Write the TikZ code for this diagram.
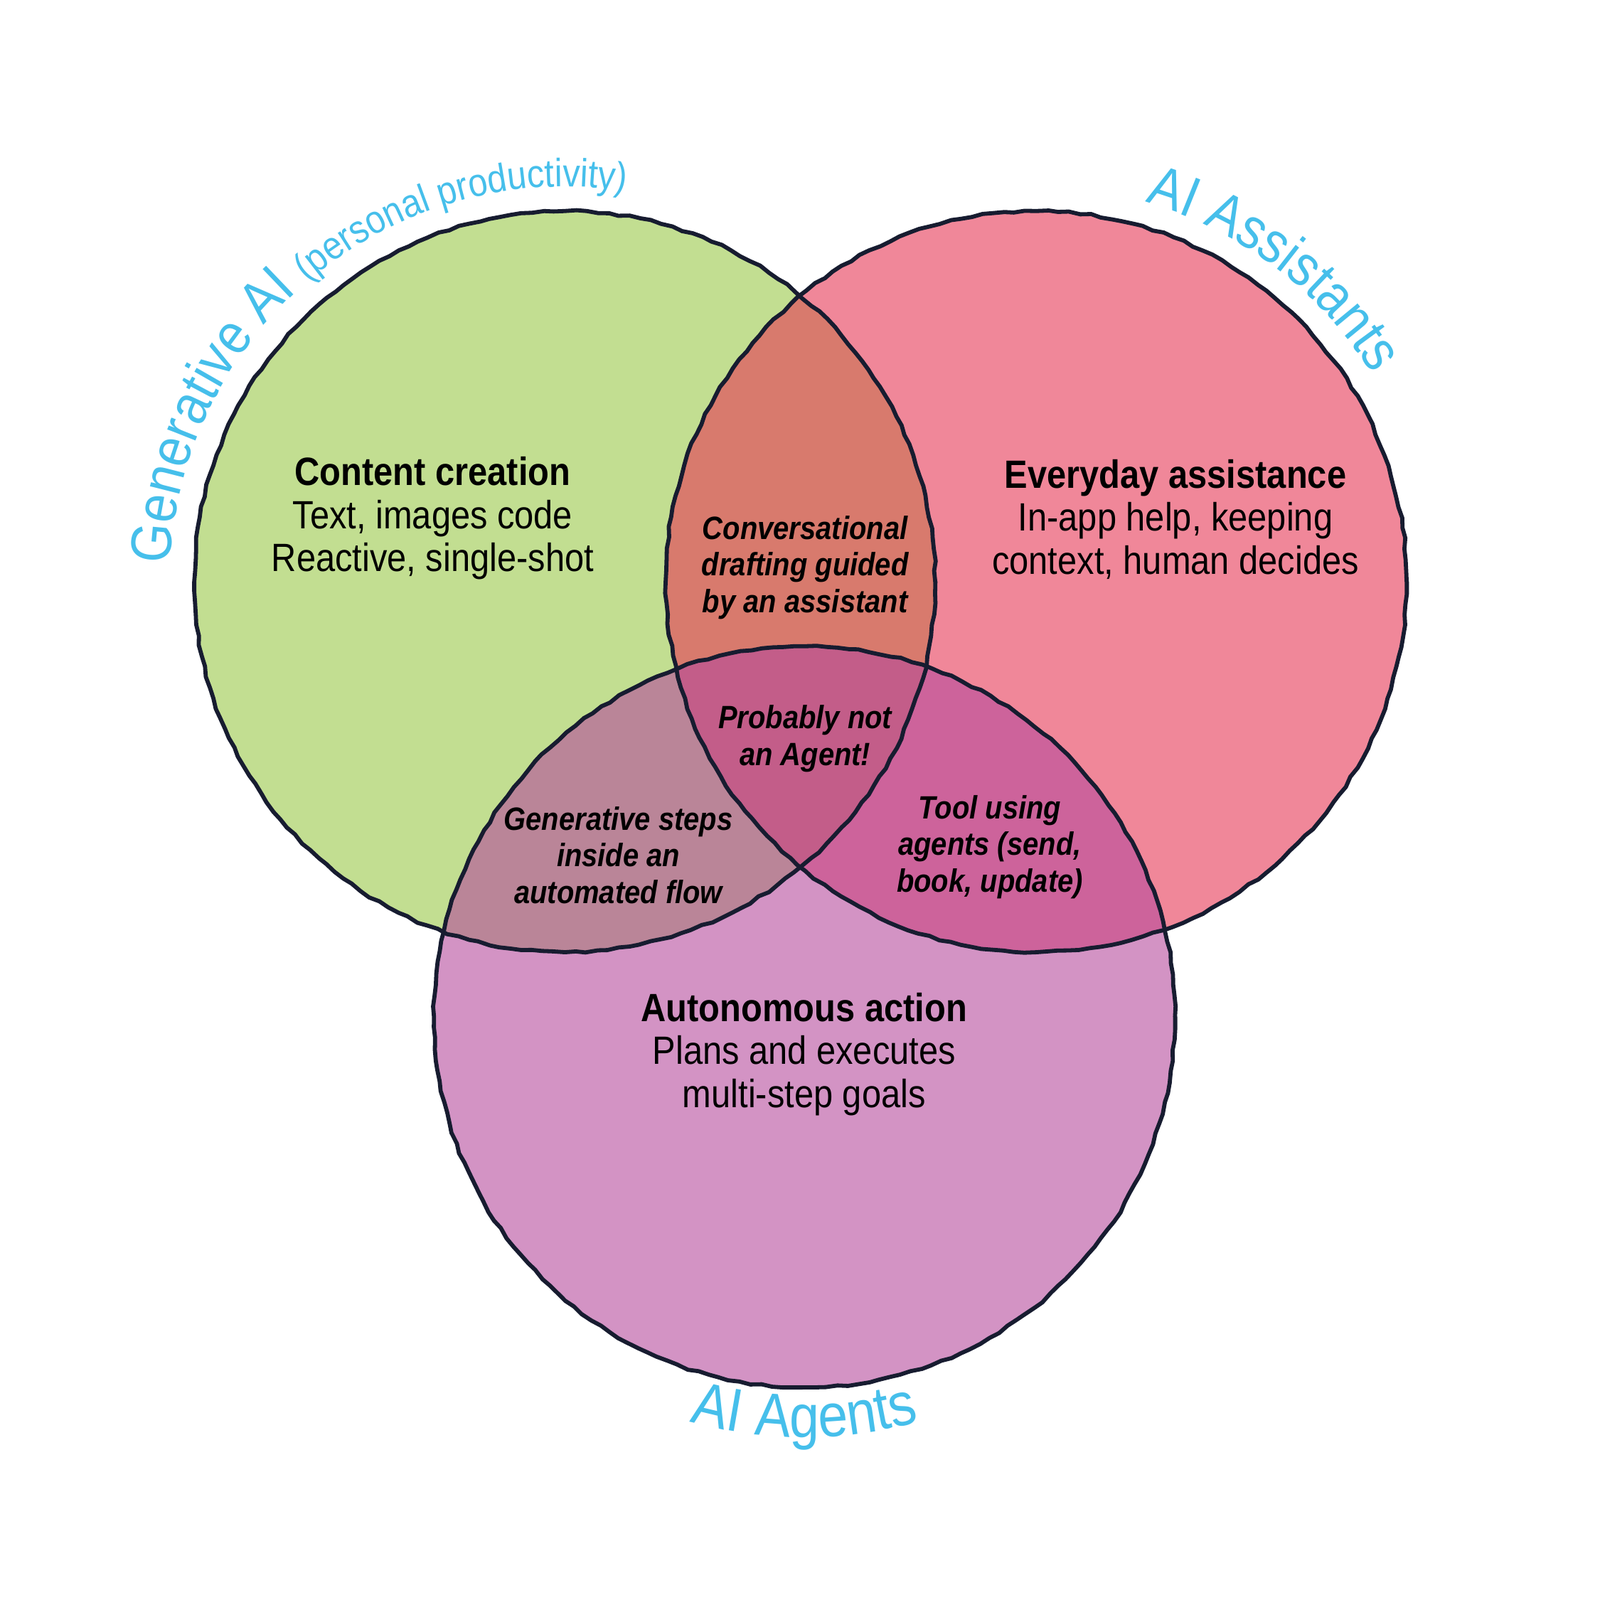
\documentclass[tikz,border=0pt]{standalone}
\usepackage{fontspec}
\setmainfont[FakeStretch=0.88]{Liberation Sans}
\usetikzlibrary{decorations.pathmorphing,decorations.text}
\definecolor{genfill}{RGB}{153,200,72}
\definecolor{astfill}{RGB}{230,55,85}
\definecolor{agtfill}{RGB}{182,75,157}
\definecolor{rimline}{RGB}{23,28,48}
\definecolor{aiblue}{RGB}{70,191,235}
\tikzset{
  blob/.style={fill opacity=0.6},
  rim/.style={draw=rimline, line width=1.15pt, decorate,
    decoration={random steps, segment length=3pt, amplitude=0.3pt}},
  blurb/.style={align=center, font=\fontsize{11}{12}\selectfont},
  overlap/.style={align=center, font=\bfseries\itshape\fontsize{9}{10.2}\selectfont},
}
\begin{document}
\begin{tikzpicture}
\useasboundingbox (0,0) rectangle (15.68,-15.68);
\coordinate (gen) at (5.535,-5.70);
\coordinate (ast) at (10.155,-5.70);
\coordinate (agt) at (7.885,-9.965);
\fill[genfill, blob] (gen) circle[radius=3.63];
\fill[astfill, blob] (ast) circle[radius=3.63];
\fill[agtfill, blob] (agt) circle[radius=3.63];
\draw[rim] (gen) circle[radius=3.63];
\draw[rim] (ast) circle[radius=3.63];
\draw[rim] (agt) circle[radius=3.63];
\node[blurb] (gentext) at (4.24,-5.08) {\textbf{Content creation}\\Text, images code\\Reactive, single-shot};
\node[blurb] (asttext) at (11.52,-5.09) {\textbf{Everyday assistance}\\In-app help, keeping\\context, human decides};
\node[blurb] (agttext) at (7.88,-10.33) {\textbf{Autonomous action}\\Plans and executes\\multi-step goals};
\node[overlap] (genast) at (7.89,-5.56) {Conversational\\drafting guided\\by an assistant};
\node[overlap] (allthree) at (7.89,-7.24) {Probably not\\an Agent!};
\node[overlap] (genagt) at (6.06,-8.38) {Generative steps\\inside an\\automated flow};
\node[overlap] (astagt) at (9.70,-8.30) {Tool using\\agents (send,\\book, update)};
\path[decorate, decoration={text along path, text color=aiblue,
  text={|\fontsize{16}{16}\selectfont|Generative AI |\fontsize{11}{11}\selectfont|(personal productivity)}}]
  (gen) ++(177.5:3.87) arc[start angle=177.5, end angle=40, radius=3.87];
\path[decorate, decoration={text along path, text color=aiblue,
  text={|\fontsize{16}{16}\selectfont|AI Assistants}}]
  (ast) ++(74:3.87) arc[start angle=74, end angle=-20, radius=3.87];
\path[decorate, decoration={text along path, text color=aiblue, text align=center,
  text={|\fontsize{17}{17}\selectfont|AI Agents}}]
  (agt) ++(225:4.12) arc[start angle=225, end angle=315, radius=4.12];
\end{tikzpicture}
\end{document}
